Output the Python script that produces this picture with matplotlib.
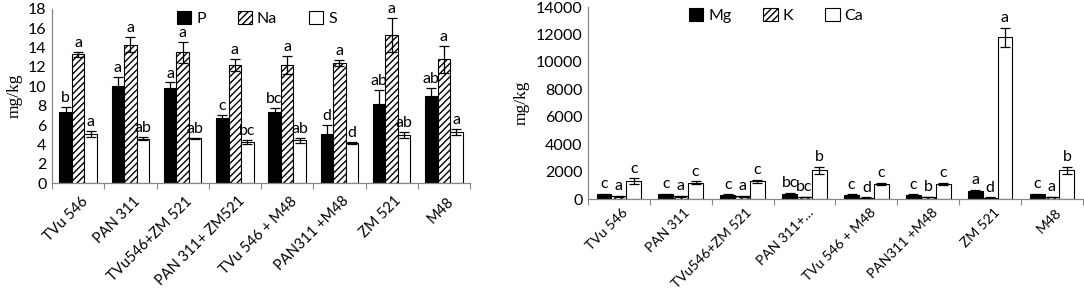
import numpy as np
import matplotlib.pyplot as plt

# treatments
labels_left = ['TVu 546', 'PAN 311', 'TVu546+ZM 521', 'PAN 311+ ZM521',
               'TVu 546 + M48', 'PAN311 +M48', 'ZM 521', 'M48']
labels_right = ['TVu 546', 'PAN 311', 'TVu546+ZM 521', 'PAN 311+\u2026',
                'TVu 546 + M48', 'PAN311 +M48', 'ZM 521', 'M48']

# left panel: P, Na, S (mg/kg)
p_vals = [7.3, 10.0, 9.8, 6.7, 7.3, 5.1, 8.2, 9.0]
p_err = [0.6, 1.0, 0.6, 0.3, 0.5, 0.9, 1.4, 0.8]
p_let = ['b', 'a', 'a', 'c', 'bc', 'd', 'ab', 'ab']
na_vals = [13.3, 14.3, 13.5, 12.2, 12.2, 12.4, 15.3, 12.8]
na_err = [0.3, 0.8, 1.1, 0.6, 0.9, 0.3, 1.8, 1.4]
na_let = ['a'] * 8
s_vals = [5.1, 4.6, 4.65, 4.25, 4.4, 4.1, 5.0, 5.3]
s_err = [0.3, 0.2, 0.05, 0.2, 0.25, 0.1, 0.3, 0.3]
s_let = ['a', 'ab', 'ab', 'bc', 'ab', 'd', 'ab', 'a']

# right panel: Mg, K, Ca (mg/kg)
mg_vals = [350, 350, 300, 400, 300, 300, 600, 350]
mg_err = [30, 30, 30, 40, 30, 30, 60, 30]
mg_let = ['c', 'c', 'c', 'bc', 'c', 'c', 'a', 'c']
k_vals = [200, 200, 200, 150, 100, 150, 100, 150]
k_err = [20, 20, 20, 15, 10, 15, 10, 15]
k_let = ['a', 'a', 'a', 'bc', 'd', 'b', 'd', 'a']
ca_vals = [1300, 1200, 1300, 2100, 1100, 1100, 11800, 2100]
ca_err = [200, 80, 100, 250, 100, 100, 700, 250]
ca_let = ['c', 'c', 'c', 'b', 'c', 'c', 'a', 'b']

plt.rcParams['font.family'] = ['Lato', 'DejaVu Sans']
plt.rcParams['hatch.linewidth'] = 1.0

fig = plt.figure(figsize=(10.84, 2.93), dpi=100)
ax1 = fig.add_axes([0.048, 0.3754, 0.3856, 0.5939])
ax2 = fig.add_axes([0.5424, 0.3208, 0.4566, 0.6552])

w = 0.24
x = np.arange(8)


def panel(ax, series, ymax, ystep, labels, letter_pad, leg_x, lab_size, lab_pad):
    styles = [dict(color='black', edgecolor='black'),
              dict(color='white', edgecolor='black', hatch='/////'),
              dict(color='white', edgecolor='black')]
    for i, (name, vals, err, lets) in enumerate(series):
        pos = x + (i - 1) * w
        ax.bar(pos, vals, w, label=name, linewidth=0.8, **styles[i])
        ax.errorbar(pos, vals, yerr=err, fmt='none', ecolor='black',
                    elinewidth=0.9, capsize=3.5, capthick=0.9)
        for xp, v, e, t in zip(pos, vals, err, lets):
            ax.text(xp, v + e + letter_pad, t, ha='center', va='bottom',
                    fontsize=11.5)
    ax.set_xlim(-0.5, 7.5)
    ax.set_ylim(0, ymax)
    ax.set_yticks(np.arange(0, ymax + 1, ystep))
    ax.set_xticks(np.arange(-0.5, 8, 1), minor=False)
    ax.set_xticklabels([])
    ax.tick_params(axis='x', length=4, color='#888888', direction='out')
    ax.set_xticks(x + 0.05, minor=True)
    ax.set_xticklabels(labels, minor=True, rotation=45, ha='right',
                       rotation_mode='anchor', fontsize=lab_size)
    ax.tick_params(axis='x', which='minor', length=0, pad=lab_pad)
    ax.tick_params(axis='y', length=0, labelsize=11.5, pad=4)
    for s in ['top', 'right']:
        ax.spines[s].set_visible(False)
    for s in ['left', 'bottom']:
        ax.spines[s].set_color('#888888')
        ax.spines[s].set_linewidth(0.9)
    ax.set_ylabel('mg/kg', family='Liberation Serif', fontsize=12.5,
                  labelpad=4)
    ax.legend(loc='upper center', ncol=3, frameon=False, fontsize=11.5,
              handlelength=0.9, handleheight=0.9, columnspacing=2.0,
              handletextpad=0.3, bbox_to_anchor=(leg_x, 1.07))


panel(ax1, [('P', p_vals, p_err, p_let), ('Na', na_vals, na_err, na_let),
            ('S', s_vals, s_err, s_let)], 18, 2, labels_left, 0.2, 0.49,
      10.5, 8)
panel(ax2, [('Mg', mg_vals, mg_err, mg_let), ('K', k_vals, k_err, k_let),
            ('Ca', ca_vals, ca_err, ca_let)], 14000, 2000, labels_right, 200,
      0.38, 10, 5)

fig.savefig('out.png', dpi=100)
